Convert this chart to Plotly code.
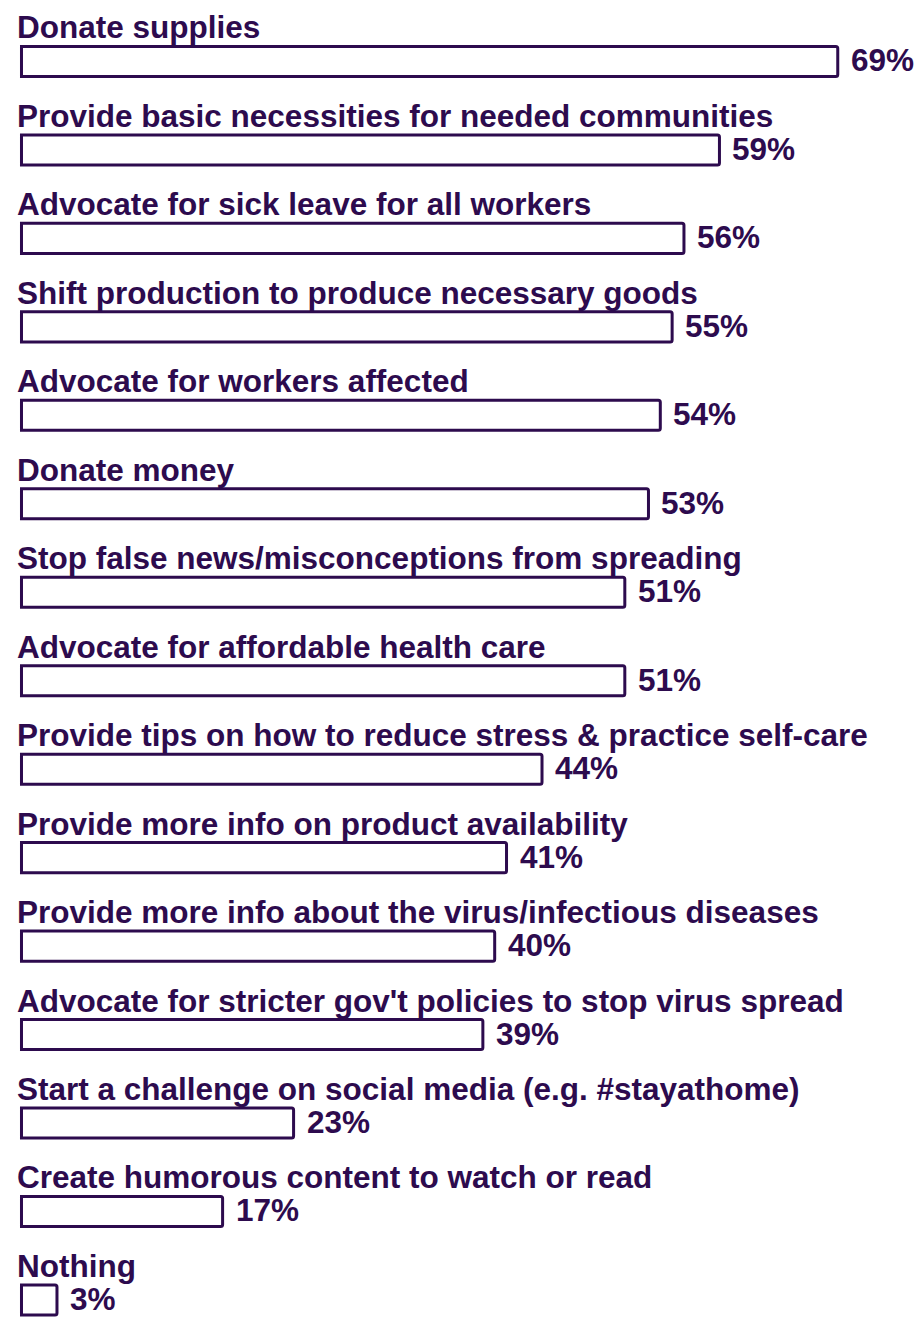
import plotly.graph_objects as go

categories = [
    "Donate supplies",
    "Provide basic necessities for needed communities",
    "Advocate for sick leave for all workers",
    "Shift production to produce necessary goods",
    "Advocate for workers affected",
    "Donate money",
    "Stop false news/misconceptions from spreading",
    "Advocate for affordable health care",
    "Provide tips on how to reduce stress & practice self-care",
    "Provide more info on product availability",
    "Provide more info about the virus/infectious diseases",
    "Advocate for stricter gov't policies to stop virus spread",
    "Start a challenge on social media (e.g. #stayathome)",
    "Create humorous content to watch or read",
    "Nothing",
]
values = [69, 59, 56, 55, 54, 53, 51, 51, 44, 41, 40, 39, 23, 17, 3]

INK = "#2d0b4e"
FONT = "Liberation Sans, Arial, sans-serif"
FONT_SIZE = 31.5
BAR_W = 0.34

ypos = list(range(len(categories)))

fig = go.Figure(
    go.Bar(
        x=values,
        y=ypos,
        orientation="h",
        width=BAR_W,
        marker=dict(color="white", line=dict(color=INK, width=3), cornerradius=2),
        hoverinfo="skip",
    )
)

annotations = []
for i, (cat, v) in enumerate(zip(categories, values)):
    # category name sitting on top of its bar
    annotations.append(dict(
        x=0, y=i - BAR_W / 2, xref="x", yref="y",
        xanchor="left", yanchor="bottom", xshift=-6, yshift=-1,
        text=f"<b>{cat}</b>", showarrow=False,
        font=dict(family=FONT, size=FONT_SIZE, color=INK),
    ))
    # percentage just past the end of the bar
    annotations.append(dict(
        x=v, y=i, xref="x", yref="y",
        xanchor="left", yanchor="middle", xshift=11, yshift=1,
        text=f"<b>{v}%</b>", showarrow=False,
        font=dict(family=FONT, size=FONT_SIZE, color=INK),
    ))

fig.update_layout(
    width=915, height=1318,
    margin=dict(l=0, r=0, t=0, b=0),
    paper_bgcolor="white", plot_bgcolor="white",
    showlegend=False,
    xaxis=dict(range=[-1.817, 75.53], visible=False, fixedrange=True),
    yaxis=dict(range=[14.204, -0.695], visible=False, fixedrange=True),
    annotations=annotations,
)

fig.write_html("out.html", config={"displayModeBar": False})
